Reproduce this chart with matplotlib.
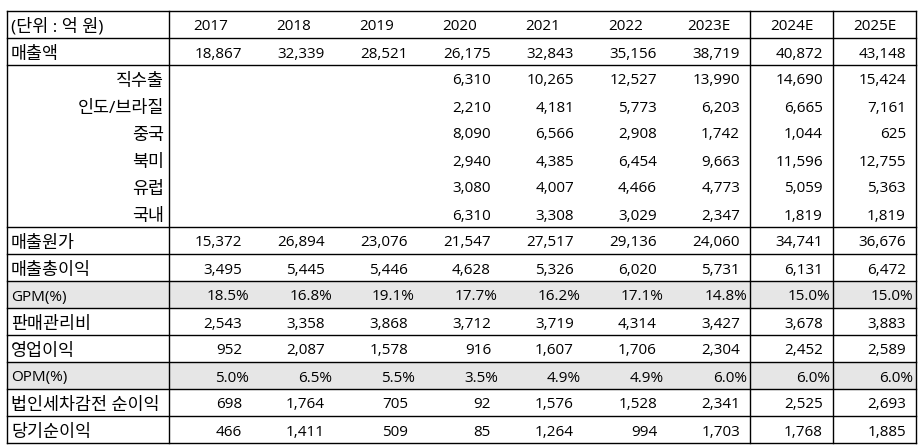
import matplotlib
matplotlib.use("Agg")
import matplotlib.pyplot as plt

plt.rcParams["font.family"] = ["Open Sans", "Noto Sans CJK KR", "DejaVu Sans"]

# ── Data ─────────────────────────────────────────────────────────────
header_label = "(단위 : 억 원)"
years = ["2017", "2018", "2019", "2020", "2021", "2022", "2023E", "2024E", "2025E"]

row_labels = ["매출액", "직수출", "인도/브라질", "중국", "북미", "유럽", "국내",
              "매출원가", "매출총이익", "GPM(%)", "판매관리비", "영업이익",
              "OPM(%)", "법인세차감전 순이익", "당기순이익"]

sales        = [18867, 32339, 28521, 26175, 32843, 35156, 38719, 40872, 43148]
export       = [None, None, None, 6310, 10265, 12527, 13990, 14690, 15424]
india_brazil = [None, None, None, 2210, 4181, 5773, 6203, 6665, 7161]
china        = [None, None, None, 8090, 6566, 2908, 1742, 1044, 625]
n_america    = [None, None, None, 2940, 4385, 6454, 9663, 11596, 12755]
europe       = [None, None, None, 3080, 4007, 4466, 4773, 5059, 5363]
domestic     = [None, None, None, 6310, 3308, 3029, 2347, 1819, 1819]
cogs         = [15372, 26894, 23076, 21547, 27517, 29136, 24060, 34741, 36676]
gross        = [3495, 5445, 5446, 4628, 5326, 6020, 5731, 6131, 6472]
gpm          = [18.5, 16.8, 19.1, 17.7, 16.2, 17.1, 14.8, 15.0, 15.0]
sga          = [2543, 3358, 3868, 3712, 3719, 4314, 3427, 3678, 3883]
op_income    = [952, 2087, 1578, 916, 1607, 1706, 2304, 2452, 2589]
opm          = [5.0, 6.5, 5.5, 3.5, 4.9, 4.9, 6.0, 6.0, 6.0]
pretax       = [698, 1764, 705, 92, 1576, 1528, 2341, 2525, 2693]
net_income   = [466, 1411, 509, 85, 1264, 994, 1703, 1768, 1885]

rows = [sales, export, india_brazil, china, n_america, europe, domestic,
        cogs, gross, gpm, sga, op_income, opm, pretax, net_income]
pct_rows = {9, 12}
sub_rows = {1, 2, 3, 4, 5, 6}

# ── Layout (pixels) ─────────────────────────────────────────────────
W, H = 924, 447
X0, XL, CW = 7, 169, 83
Y0, RH = 11, 27
BASE = 19.5   # baseline offset from row top
X_END = XL + CW * len(years)
n_rows = len(rows) + 1
Y_END = Y0 + RH * n_rows

FS = 11         # numbers / latin
FS_KR = 12.5    # hangul labels
GRAY = "#e6e6e6"


def has_hangul(s):
    return any("\uac00" <= c <= "\ud7a3" for c in s)


def cell_text(x, row, s, ha, size=FS, dy=0.0):
    ax.text(x, Y0 + RH * row + BASE + dy, s, ha=ha, va="baseline", fontsize=size)


def label_text(x, row, s, ha):
    if has_hangul(s):
        cell_text(x, row, s, ha, FS_KR, dy=1.5)
    else:
        cell_text(x, row, s, ha)


fig = plt.figure(figsize=(W / 100, H / 100), dpi=100)
ax = fig.add_axes([0, 0, 1, 1])
ax.set_xlim(0, W)
ax.set_ylim(H, 0)
ax.axis("off")

# shaded rows
for i in pct_rows:
    top = Y0 + RH * (i + 1)
    ax.fill_between([X0, X_END], top, top + RH, color=GRAY, lw=0, zorder=0)

# horizontal lines (none inside the regional breakdown block)
for i in range(n_rows + 1):
    if 2 < i < 8:
        continue
    y = Y0 + RH * i
    ax.plot([X0, X_END], [y, y], color="black", lw=1.0, zorder=2)

# vertical lines
for x in [X0, XL, XL + CW * 7, XL + CW * 8, X_END]:
    ax.plot([x, x], [Y0, Y_END], color="black", lw=1.0, zorder=2)

# header
label_text(X0 + 4, 0, header_label, "left")
for j, yr in enumerate(years):
    cell_text(XL + CW * j + CW / 2, 0, yr, "center")

# body
for i, (lab, vals) in enumerate(zip(row_labels, rows)):
    r = i + 1
    label_text(XL - 5 if i in sub_rows else X0 + 4, r, lab,
               "right" if i in sub_rows else "left")
    for j, v in enumerate(vals):
        if v is None:
            continue
        right = XL + CW * (j + 1)
        if i in pct_rows:
            cell_text(right - 3, r, f"{v:.1f}%", "right")
        else:
            cell_text(right - 10, r, f"{v:,}", "right")

fig.savefig("out.png", dpi=100, facecolor="white")
